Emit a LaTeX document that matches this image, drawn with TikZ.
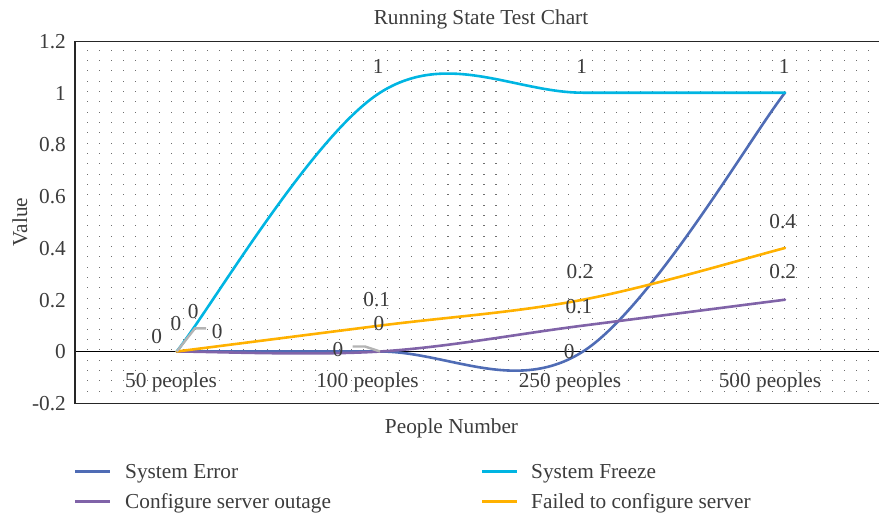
\documentclass[tikz,border=0pt]{standalone}
\usepackage{fontspec}
\setmainfont{Liberation Serif}
\definecolor{errc}{RGB}{79,108,181}
\definecolor{frzc}{RGB}{0,181,226}
\definecolor{outc}{RGB}{128,99,168}
\definecolor{failc}{RGB}{255,177,0}
\definecolor{leadc}{RGB}{180,180,180}
\definecolor{txtc}{RGB}{60,60,60}
\definecolor{dotc}{RGB}{110,110,110}
\begin{document}
\begin{tikzpicture}[x=1pt,y=-1pt,
  font=\fontsize{21.3}{25}\selectfont,
  txt/.style={text=txtc, inner sep=0pt},
  lbl/.style={txt, anchor=base},
  ytick/.style={txt, anchor=base east},
  ser/.style={line width=2.6pt, line cap=round, line join=round},
  lead/.style={draw=leadc, line width=2.4pt, line join=round},
  frame/.style={line width=1.5pt, black!85}]
\useasboundingbox (0,0) rectangle (879,515);
% dotted grid
\foreach \i in {0,...,65}{
  \foreach \j in {1,...,34}{
    \fill[dotc] ({87.3+12.02*\i-0.5},{41+10.33*\j-0.5}) rectangle ++(1.1,-1.1);
  }
}
% axes / frame
\draw[line width=1.2pt, black] (75,351.5) -- (879,351.5);
\draw[frame] (879,41.5) -- (75,41.5) -- (75,403.3) -- (879,403.3);
% y tick labels
\node[ytick] (y12) at (66,48.5) {1.2};
\node[ytick] (y10) at (66,100.2) {1};
\node[ytick] (y08) at (66,151.9) {0.8};
\node[ytick] (y06) at (66,203.6) {0.6};
\node[ytick] (y04) at (66,255.3) {0.4};
\node[ytick] (y02) at (66,307) {0.2};
\node[ytick] (y00) at (66,358.5) {0};
\node[ytick] (ym2) at (66,410.3) {-0.2};
\node[txt, rotate=90] (ylab) at (20,222) {Value};
% x tick labels
\node[lbl] (x1) at (171,387) {50 peoples};
\node[lbl] (x2) at (367.5,387) {100 peoples};
\node[lbl] (x3) at (570,387) {250 peoples};
\node[lbl] (x4) at (770,387) {500 peoples};
\node[lbl] (xlab) at (451.5,433) {People Number};
\node[lbl] (title) at (481,24) {Running State Test Chart};
% series
\coordinate (e0) at (176.7,351.5); \coordinate (e1) at (380,351.5);
\coordinate (e2) at (583,351.5);   \coordinate (e3) at (785,92.7);
\draw[ser, errc] (e0) .. controls (210.6,351.5) and (312.3,351.5) .. (e1)
  .. controls (447.7,351.5) and (515.5,394.6) .. (e2)
  .. controls (650.5,308.4) and (751.3,135.8) .. (e3);
\coordinate (f0) at (176.7,351.5); \coordinate (f1) at (380,92.7);
\coordinate (f2) at (583,92.7);    \coordinate (f3) at (785,92.7);
\draw[ser, frzc] (f0) .. controls (210.6,308.4) and (312.3,135.8) .. (f1)
  .. controls (447.7,49.6) and (515.5,92.7) .. (f2)
  .. controls (650.5,92.7) and (751.3,92.7) .. (f3);
\coordinate (o0) at (176.7,351.5); \coordinate (o1) at (380,351.5);
\coordinate (o2) at (583,325.6);   \coordinate (o3) at (785,299.7);
\draw[ser, outc] (o0) .. controls (210.6,351.5) and (312.3,355.8) .. (o1)
  .. controls (447.7,347.2) and (515.5,334.2) .. (o2)
  .. controls (650.5,317.0) and (751.3,304.0) .. (o3);
\coordinate (g0) at (176.7,351.5); \coordinate (g1) at (380,325.6);
\coordinate (g2) at (583,299.7);   \coordinate (g3) at (785,248.0);
\draw[ser, failc] (g0) .. controls (210.6,347.2) and (312.3,334.2) .. (g1)
  .. controls (447.7,317.0) and (515.5,312.6) .. (g2)
  .. controls (650.5,286.8) and (751.3,256.6) .. (g3);
% leader lines
\coordinate (la) at (195,328.3); \coordinate (lb) at (206,328.3);
\draw[lead] (e0) -- (la) -- (lb);
\coordinate (lc) at (352.7,346.5); \coordinate (ld) at (365,346.5);
\draw[lead] (lc) -- (ld) -- (e1);
% data labels
\node[lbl] (d1) at (156.7,343.7) {0};
\node[lbl] (d2) at (176,330.3) {0};
\node[lbl] (d3) at (193.3,318.7) {0};
\node[lbl] (d4) at (217.3,338.7) {0};
\node[lbl] (d5) at (338,356.3) {0};
\node[lbl] (d6) at (376.7,306.3) {0.1};
\node[lbl] (d7) at (379,330.3) {0};
\node[lbl] (d8) at (378.3,73) {1};
\node[lbl] (d9) at (580,278.7) {0.2};
\node[lbl] (d10) at (579,313) {0.1};
\node[lbl] (d11) at (569.3,358.7) {0};
\node[lbl] (d12) at (581.7,73) {1};
\node[lbl] (d13) at (782.7,228.7) {0.4};
\node[lbl] (d14) at (782.7,278.7) {0.2};
\node[lbl] (d15) at (784.3,73) {1};
% legend
\coordinate (k1a) at (75,471.5); \coordinate (k1b) at (110,471.5);
\draw[ser, errc, line cap=butt] (k1a) -- (k1b);
\node[txt, anchor=base west] (t1) at (125,478.5) {System Error};
\coordinate (k2a) at (75,501.5); \coordinate (k2b) at (110,501.5);
\draw[ser, outc, line cap=butt] (k2a) -- (k2b);
\node[txt, anchor=base west] (t2) at (125,508.5) {Configure server outage};
\coordinate (k3a) at (482,471.5); \coordinate (k3b) at (517,471.5);
\draw[ser, frzc, line cap=butt] (k3a) -- (k3b);
\node[txt, anchor=base west] (t3) at (531,478.5) {System Freeze};
\coordinate (k4a) at (482,501.5); \coordinate (k4b) at (517,501.5);
\draw[ser, failc, line cap=butt] (k4a) -- (k4b);
\node[txt, anchor=base west] (t4) at (531,508.5) {Failed to configure server};
\end{tikzpicture}
\end{document}
